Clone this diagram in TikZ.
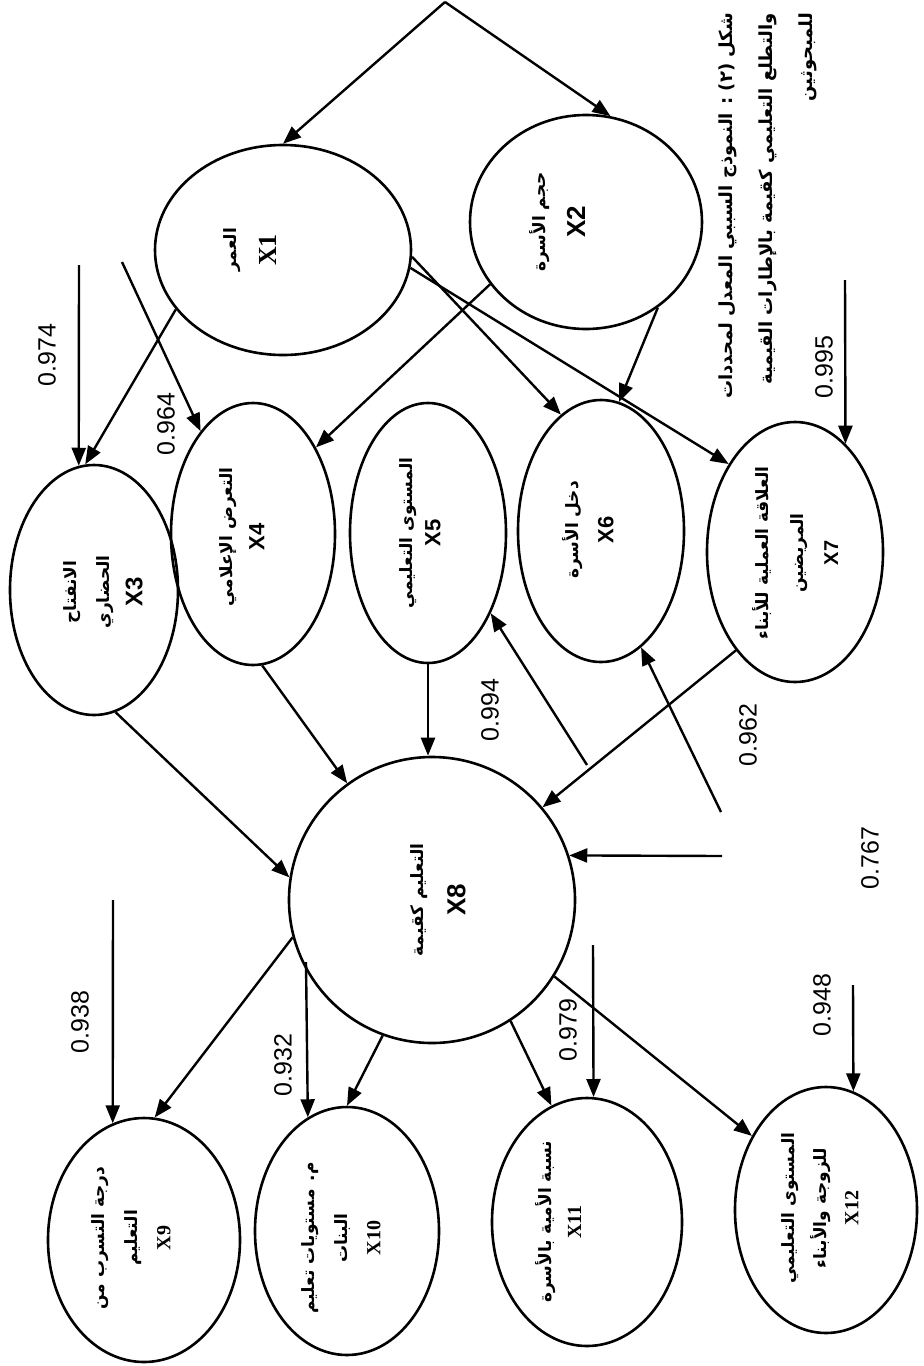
\documentclass[tikz,border=0pt]{standalone}
\usepackage{fontspec}
\setmainfont{Liberation Sans}
\newfontfamily\arabicfont[Script=Arabic]{DejaVu Sans}
\newfontfamily\serifx{Liberation Serif}
\TeXXeTstate=1
\usetikzlibrary{shapes.geometric,arrows.meta}
\newcommand\ar[1]{{\arabicfont\bfseries\beginR #1\endR}}
\newcommand\xs[2]{{\bfseries\fontsize{#1}{30}\selectfont #2}}
\newcommand\xr[2]{{\serifx\bfseries\fontsize{#1}{30}\selectfont #2}}
\begin{document}
\begin{tikzpicture}[x=1pt,y=-1pt,
  ell/.style={draw, ellipse, line width=2.6pt, inner sep=0pt},
  arr/.style={line width=2.4pt, -{Triangle[length=18pt,width=14pt]}},
  lab/.style={rotate=90, align=center, inner sep=0pt},
  num/.style={rotate=90, inner sep=0pt, font=\fontsize{25}{28}\selectfont},
]
\useasboundingbox (0,0) rectangle (924,1366);
% ellipses
\node[ell, minimum width=256pt, minimum height=210pt] (X1) at (283,250) {};
\node[ell, minimum width=232pt, minimum height=214pt] (X2) at (586,222) {};
\node[ell, minimum width=168pt, minimum height=250pt] (X3) at (94,590) {};
\node[ell, minimum width=164pt, minimum height=262pt] (X4) at (253,534) {};
\node[ell, minimum width=156pt, minimum height=260pt] (X5) at (428,533) {};
\node[ell, minimum width=166pt, minimum height=262pt] (X6) at (601,531) {};
\node[ell, minimum width=176pt, minimum height=260pt] (X7) at (795,552) {};
\node[ell, minimum width=286pt, minimum height=286pt] (X8) at (432,900) {};
\node[ell, minimum width=192pt, minimum height=244pt] (X9) at (144,1240) {};
\node[ell, minimum width=184pt, minimum height=248pt] (X10) at (347,1231) {};
\node[ell, minimum width=190pt, minimum height=248pt] (X11) at (587,1222) {};
\node[ell, minimum width=182pt, minimum height=246pt] (X12) at (826,1210) {};
% texts
\node[lab, font=\fontsize{17}{40}\selectfont] (t1) at (250,250) {\ar{العمر}\\\xr{26}{X1}};
\node[lab, font=\fontsize{17}{40}\selectfont] (t2) at (557,222) {\ar{حجم الأسرة}\\\xs{26}{X2}};
\node[lab, font=\fontsize{17}{33}\selectfont] (t3) at (103,592) {\ar{الانفتاح}\\\ar{الحضاري}\\\xs{24}{X3}};
\node[lab, font=\fontsize{17}{32}\selectfont] (t4) at (242,537) {\ar{التعرض الإعلامي}\\\xs{22}{X4}};
\node[lab, font=\fontsize{17}{28}\selectfont] (t5) at (420,533) {\ar{المستوى التعليمي}\\\xs{22}{X5}};
\node[lab, font=\fontsize{17}{35}\selectfont] (t6) at (588,530) {\ar{دخل الأسرة}\\\xs{22}{X6}};
\node[lab, font=\fontsize{17}{35}\selectfont] (t7) at (795,553) {\ar{العلاقة العملية للأبناء}\\\ar{المريضين}\\\xs{20}{X7}};
\node[lab, font=\fontsize{17}{42}\selectfont] (t8) at (438,900) {\ar{التعليم كقيمة}\\\xs{26}{X8}};
\node[lab, font=\fontsize{17}{33}\selectfont] (t9) at (131,1238) {\ar{درجة التسرب من}\\\ar{التعليم}\\\xr{20}{X9}};
\node[lab, font=\fontsize{17}{33}\selectfont] (t10) at (341,1238) {\ar{م. مستويات تعليم}\\\ar{البنات}\\\xr{20}{X10}};
\node[lab, font=\fontsize{17}{30}\selectfont] (t11) at (558,1222) {\ar{نسبة الأمية بالأسرة}\\\xr{20}{X11}};
\node[lab, font=\fontsize{17}{32}\selectfont] (t12) at (820,1208) {\ar{المستوى التعليمي}\\\ar{للزوجة والأبناء}\\\xr{20}{X12}};
% title
\node[rotate=90, anchor=east, align=right, inner sep=0pt, font=\fontsize{18}{40}\selectfont] (title) at (768,13)
  {\ar{شكل (٢) : النموذج السببي المعدل لمحددات}\\\ar{والتطلع التعليمي كقيمة بالإطارات القيمية}\\\ar{للمبحوثين}};
% free ends
\coordinate (top) at (445,2);
\coordinate (d3) at (79,265);
\coordinate (d4) at (122,262);
\coordinate (d7) at (845,280);
\coordinate (d5) at (587,765);
\coordinate (d6) at (721,812);
\coordinate (d8) at (722,856);
\coordinate (d9) at (113,900);
\coordinate (d10) at (306,962);
\coordinate (d11) at (593,945);
\coordinate (d12) at (853,985);
% connectors
\draw[arr] (top) -- (X1.90);
\draw[arr] (top) -- (X2.77);
\draw[arr] (X1.209) -- (X3.94);
\draw[arr] (d3) -- (X3.97);
\draw[arr] (d4) -- (X4.117);
\draw[arr] (X2.213) -- (X4.54);
\draw[arr] (X1.-3) -- (X6.109);
\draw[arr] (X1.-8) -- (X7.127);
\draw[arr] (X2.310) -- (X6.82);
\draw[arr] (d7) -- (X7.65);
\draw[arr] (X3.280) -- (X8.171);
\draw[arr] (X4.274) -- (X8.126);
\draw[arr] (X5.south) -- (X5.south |- X8.north);
\draw[arr] (d5) -- (X5.308);
\draw[arr] (d6) -- (X6.289);
\draw[arr] (X7.239) -- (X8.40);
\draw[arr] (d8) -- (X8.18);
\draw[arr] (X8.195) -- (X9.85);
\draw[arr] (d9) -- (X9.105);
\draw[arr] (X8.250) -- (X10.90);
\draw[arr] (d10) -- (X10.109);
\draw[arr] (X8.303) -- (X11.107);
\draw[arr] (d11) -- (X11.87);
\draw[arr] (X8.328) -- (X12.135);
\draw[arr] (d12) -- (X12.77);
% numbers
\node[num] (n1) at (47,355) {0.974};
\node[num] (n2) at (166,424) {0.964};
\node[num] (n3) at (490,710) {0.994};
\node[num] (n4) at (748,735) {0.962};
\node[num] (n5) at (824,367) {0.995};
\node[num] (n6) at (870,858) {0.767};
\node[num] (n7) at (80,1022) {0.938};
\node[num] (n8) at (283,1065) {0.932};
\node[num] (n9) at (568,1030) {0.979};
\node[num] (n10) at (822,1005) {0.948};
\end{tikzpicture}
\end{document}
